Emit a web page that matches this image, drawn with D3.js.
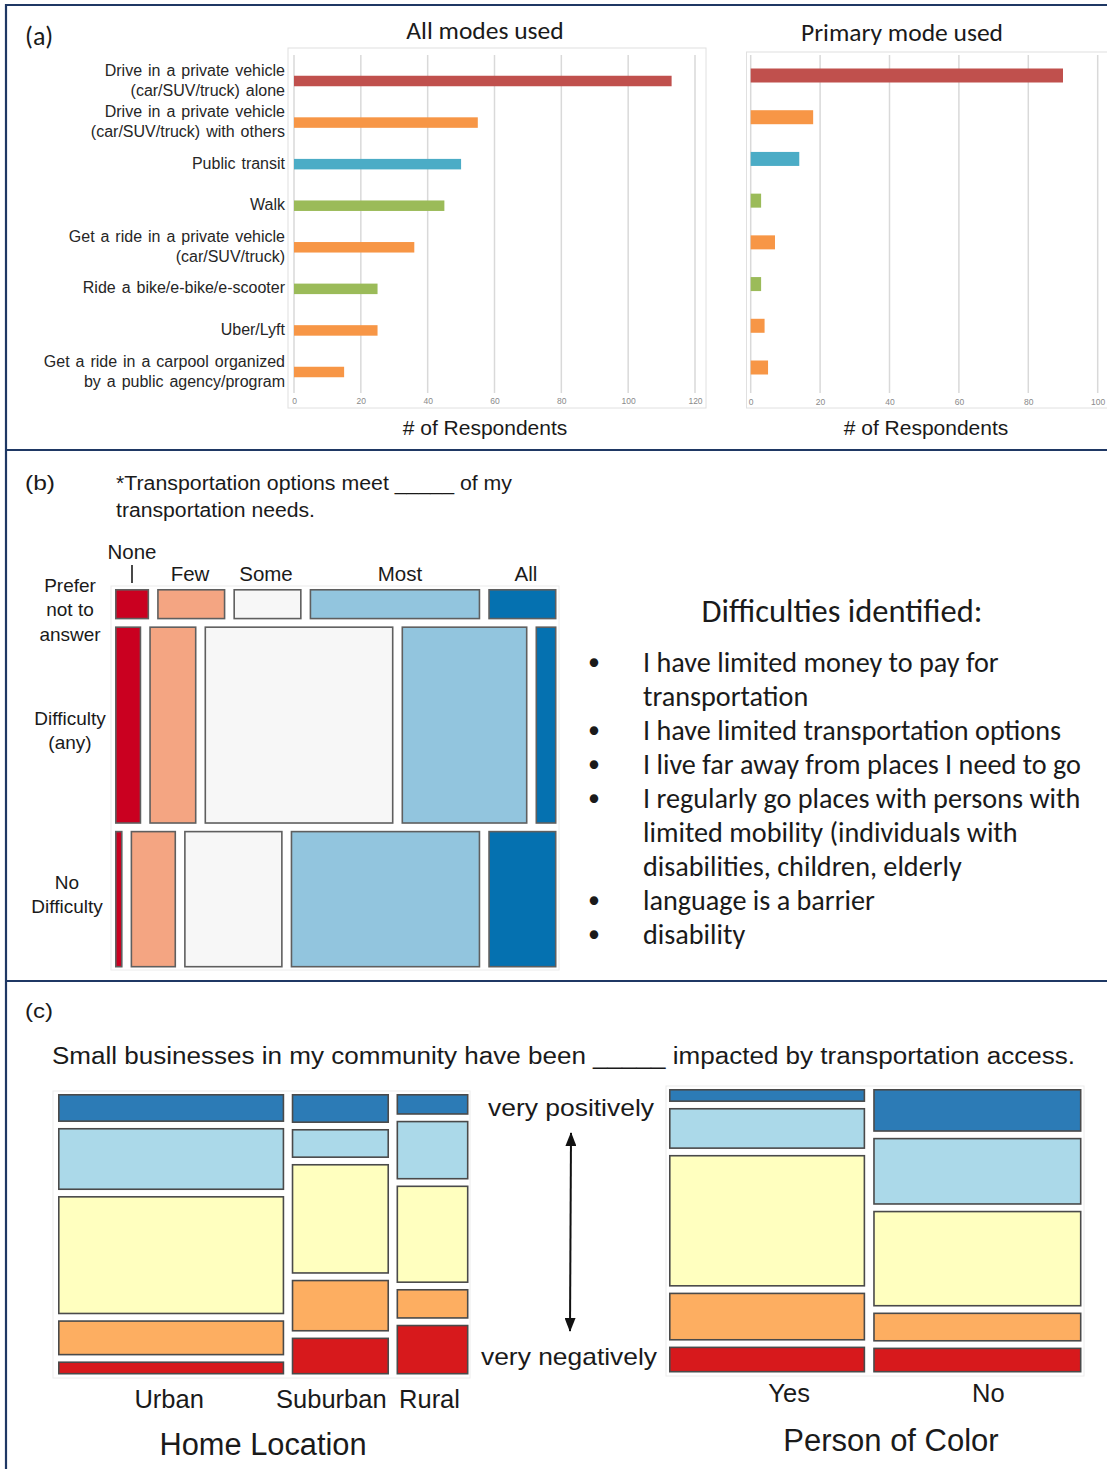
<!DOCTYPE html>
<html>
<head>
<meta charset="utf-8">
<script src="https://cdn.jsdelivr.net/npm/d3@7"></script>
<style>
  body { margin: 0; background: #fff; }
  svg { display: block; }
</style>
</head>
<body>
<svg id="fig" width="1107" height="1469"></svg>
<script>
// ---------- (a) travel modes ----------
const modeLabels = [
  ["Drive in a private vehicle", "(car/SUV/truck) alone"],
  ["Drive in a private vehicle", "(car/SUV/truck) with others"],
  ["Public transit"],
  ["Walk"],
  ["Get a ride in a private vehicle", "(car/SUV/truck)"],
  ["Ride a bike/e-bike/e-scooter"],
  ["Uber/Lyft"],
  ["Get a ride in a carpool organized", "by a public agency/program"]
];
const allModesUsed    = [113, 55, 50, 45, 36, 25, 25, 15];
const primaryModeUsed = [90, 18, 14, 3, 7, 3, 4, 5];
const modeGroup = ["alone", "shared", "transit", "active", "shared", "active", "shared", "shared"];
const allModesTicks = [0, 20, 40, 60, 80, 100, 120];
const primaryTicks  = [0, 20, 40, 60, 80, 100];

// ---------- (b) needs met vs. difficulty ----------
const needLevels = ["None", "Few", "Some", "Most", "All"];
const difficultyGroups = [["Prefer", "not to", "answer"], ["Difficulty", "(any)"], ["No", "Difficulty"]];
const needsPreferNot    = [1, 2, 2, 5, 2];
const needsDifficulty   = [5, 9, 36, 24, 4];
const needsNoDifficulty = [1, 6, 13, 25, 9];
const difficultiesList = [
  ["I have limited money to pay for", "transportation"],
  ["I have limited transportation options"],
  ["I live far away from places I need to go"],
  ["I regularly go places with persons with", "limited mobility (individuals with", "disabilities, children, elderly"],
  ["language is a barrier"],
  ["disability"]
];

// ---------- (c) small-business impact (shares, %) ----------
// impact levels ordered top to bottom: very positively ... very negatively
const homeLocations = ["Urban", "Suburban", "Rural"];
const homeShare = [57.2, 24.6, 18.2];
const impactUrban    = [10.9, 24.2, 46.1, 13.7, 5.1];
const impactSuburban = [11.3, 11.3, 42.8, 20.2, 14.4];
const impactRural    = [8.1, 22.9, 38.0, 11.6, 19.4];
const pocGroups = ["Yes", "No"];
const pocShare = [48.5, 51.5];
const impactPocYes = [5.0, 15.8, 50.8, 18.5, 10.0];
const impactPocNo  = [16.5, 25.8, 36.9, 11.2, 9.6];

// ---------- palettes ----------
const modeColor = { alone: "#c0504d", shared: "#f79646", transit: "#4bacc6", active: "#9bbb59" };
const needColors = ["#ca0020", "#f4a582", "#f7f7f7", "#92c5de", "#0571b0"];
const impactColors = ["#2c7bb6", "#abd9e9", "#ffffbf", "#fdae61", "#d7191c"];

const ARIAL = "'Liberation Sans', Arial, Helvetica, sans-serif";
const CALIBRI = "Carlito, Calibri, Lato, 'Open Sans', sans-serif";
const NAVY = "#1f3864";

const svg = d3.select("#fig");
svg.append("rect").attr("width", 1107).attr("height", 1469).attr("fill", "#fff");

// panel frame lines
const frame = svg.append("g").attr("stroke", NAVY).attr("stroke-width", 2.2);
frame.append("line").attr("x1", 6).attr("x2", 1107).attr("y1", 5).attr("y2", 5);
frame.append("line").attr("x1", 6).attr("x2", 6).attr("y1", 4).attr("y2", 1469);
frame.append("line").attr("x1", 6).attr("x2", 1107).attr("y1", 450).attr("y2", 450);
frame.append("line").attr("x1", 6).attr("x2", 1107).attr("y1", 981).attr("y2", 981);

function text(g, str, x, y, opts = {}) {
  const t = g.append("text")
    .attr("x", x).attr("y", y).attr("dy", "0.35em")
    .attr("font-family", opts.family || ARIAL)
    .attr("font-size", opts.size || 16)
    .attr("fill", opts.fill || "#1a1a1a")
    .attr("text-anchor", opts.anchor || "start")
    .text(str);
  if (opts.width) t.attr("textLength", opts.width).attr("lengthAdjust", "spacingAndGlyphs");
  if (opts.wordSpacing) t.attr("word-spacing", opts.wordSpacing);
  return t;
}

// ================= (a) =================
const gA = svg.append("g");
text(gA, "(a)", 25, 36, { family: CALIBRI, size: 26 });

function barChart(g, values, ticks, cfg) {
  const x = d3.scaleLinear().domain([0, ticks[ticks.length - 1]]).range([cfg.x0, cfg.x1]);
  const y = d3.scalePoint().domain(d3.range(values.length)).range([cfg.yFirst, cfg.yLast]);

  // plot frame
  g.append("rect")
    .attr("x", cfg.fx0).attr("y", cfg.fy0)
    .attr("width", cfg.fx1 - cfg.fx0).attr("height", cfg.fy1 - cfg.fy0)
    .attr("fill", "none").attr("stroke", "#e0e0e0").attr("stroke-width", 1);

  // vertical gridlines
  g.append("g").selectAll("line").data(ticks).join("line")
    .attr("x1", d => x(d)).attr("x2", d => x(d))
    .attr("y1", 55).attr("y2", 393)
    .attr("stroke", "#d9d9d9").attr("stroke-width", 1.5);

  // tick labels
  const ax = g.append("g").attr("transform", `translate(0,${cfg.tickY})`)
    .call(d3.axisBottom(x).tickValues(ticks).tickSize(0).tickPadding(0));
  ax.select(".domain").remove();
  ax.selectAll("text").attr("font-family", ARIAL).attr("font-size", 8.5)
    .attr("fill", "#8a8a8a").attr("dy", "0.35em");

  // bars
  g.append("g").selectAll("rect").data(values).join("rect")
    .attr("x", x(0))
    .attr("y", (d, i) => y(i) - cfg.barH / 2)
    .attr("width", d => x(d) - x(0))
    .attr("height", cfg.barH)
    .attr("fill", (d, i) => modeColor[modeGroup[i]]);

  text(g, cfg.title, cfg.titleX, cfg.titleY, { family: CALIBRI, size: 25.5, anchor: "middle" });
  text(g, "# of Respondents", cfg.axisTitleX, 428, { size: 21, anchor: "middle" });
  return y;
}

const yAll = barChart(gA, allModesUsed, allModesTicks, {
  x0: 294, x1: 695, yFirst: 81, yLast: 372, barH: 10.5,
  fx0: 288, fx1: 706, fy0: 48, fy1: 408, tickY: 401,
  title: "All modes used", titleX: 485, titleY: 30, axisTitleX: 485
});
barChart(gA, primaryModeUsed, primaryTicks, {
  x0: 750.7, x1: 1097.7, yFirst: 75.5, yLast: 367.5, barH: 14,
  fx0: 746.5, fx1: 1112, fy0: 52, fy1: 408, tickY: 402,
  title: "Primary mode used", titleX: 902, titleY: 32, axisTitleX: 926
});

// category labels
modeLabels.forEach((lines, i) => {
  const cy = yAll(i);
  const offs = lines.length === 1 ? [-1] : [-11, 9];
  lines.forEach((ln, k) => {
    text(gA, ln, 285, cy + offs[k], { size: 16, anchor: "end", fill: "#262626", wordSpacing: 1.5 });
  });
});

// ================= mosaic helper =================
// outer groups split the long axis by their weights; inner values split each group
function mosaic(g, groups, cfg) {
  const horizontalOuter = cfg.orient === "cols";
  const weights = cfg.outerWeights || groups.map(v => d3.sum(v));
  const outerSpan = horizontalOuter ? cfg.x1 - cfg.x0 : cfg.y1 - cfg.y0;
  const outerScale = d3.scaleLinear().domain([0, d3.sum(weights)])
    .range([0, outerSpan - cfg.gapOuter * (groups.length - 1)]);
  const outerStart = [0, ...d3.cumsum(weights)];
  const cells = [];
  groups.forEach((vals, gi) => {
    const o0 = (horizontalOuter ? cfg.x0 : cfg.y0) + outerScale(outerStart[gi]) + cfg.gapOuter * gi;
    const oLen = outerScale(weights[gi]);
    const innerSpan = horizontalOuter ? cfg.y1 - cfg.y0 : cfg.x1 - cfg.x0;
    const innerScale = d3.scaleLinear().domain([0, d3.sum(vals)])
      .range([0, innerSpan - cfg.gapInner * (vals.length - 1)]);
    const innerStart = [0, ...d3.cumsum(vals)];
    vals.forEach((v, vi) => {
      const i0 = (horizontalOuter ? cfg.y0 : cfg.x0) + innerScale(innerStart[vi]) + cfg.gapInner * vi;
      const iLen = innerScale(v);
      cells.push(horizontalOuter
        ? { x: o0, y: i0, w: oLen, h: iLen, k: vi, g: gi }
        : { x: i0, y: o0, w: iLen, h: oLen, k: vi, g: gi });
    });
  });
  const sw = cfg.strokeWidth;
  g.append("g").selectAll("rect").data(cells).join("rect")
    .attr("x", d => d.x + sw / 2).attr("y", d => d.y + sw / 2)
    .attr("width", d => Math.max(0, d.w - sw)).attr("height", d => Math.max(0, d.h - sw))
    .attr("fill", d => cfg.colors[d.k])
    .attr("stroke", cfg.stroke).attr("stroke-width", sw);
  return { outerScale, outerStart, weights };
}

// ================= (b) =================
const gB = svg.append("g");
text(gB, "(b)", 25, 483, { size: 21, width: 30 });
text(gB, "*Transportation options meet _____ of my", 116, 483, { size: 19.5, width: 396 });
text(gB, "transportation needs.", 116, 510, { size: 19.5, width: 199 });

gB.append("rect").attr("x", 111).attr("y", 586).attr("width", 448).attr("height", 384)
  .attr("fill", "none").attr("stroke", "#ececec").attr("stroke-width", 1);

mosaic(gB, [needsPreferNot, needsDifficulty, needsNoDifficulty], {
  orient: "rows", x0: 115, x1: 556.5, y0: 589, y1: 967.5,
  gapOuter: 7, gapInner: 8, colors: needColors, stroke: "#5f5f5f", strokeWidth: 1.6
});

// column labels (positions follow the top row of cells)
const needLabelX = [132, 190, 266, 400, 526];
needLevels.forEach((lab, i) => {
  text(gB, lab, needLabelX[i], i === 0 ? 552 : 574, { size: 20.5, anchor: "middle" });
});
gB.append("line").attr("x1", 132).attr("x2", 132).attr("y1", 565).attr("y2", 583)
  .attr("stroke", "#1a1a1a").attr("stroke-width", 1.6);

// row labels
const rowLabelPos = [{ x: 70, y: 585 }, { x: 70, y: 718 }, { x: 67, y: 882 }];
difficultyGroups.forEach((lines, i) => {
  lines.forEach((ln, k) => {
    text(gB, ln, rowLabelPos[i].x, rowLabelPos[i].y + k * 24.5, { size: 19, anchor: "middle" });
  });
});

// difficulties list
text(gB, "Difficulties identified:", 842, 611, { family: CALIBRI, size: 32.5, anchor: "middle" });
let lineIdx = 0;
difficultiesList.forEach(item => {
  item.forEach((ln, k) => {
    const yy = 662 + lineIdx * 34;
    if (k === 0) text(gB, "•", 594, yy, { family: CALIBRI, size: 24, anchor: "middle" });
    text(gB, ln, 643, yy, { family: CALIBRI, size: 28.2 });
    lineIdx++;
  });
});

// ================= (c) =================
const gC = svg.append("g");
text(gC, "(c)", 25, 1011, { size: 21, width: 28 });
text(gC, "Small businesses in my community have been _____ impacted by transportation access.",
  52, 1056, { size: 23, width: 1023 });

// home-location mosaic
gC.append("rect").attr("x", 53).attr("y", 1091).attr("width", 417).attr("height", 287)
  .attr("fill", "none").attr("stroke", "#ececec").attr("stroke-width", 1);
const home = mosaic(gC, [impactUrban, impactSuburban, impactRural], {
  orient: "cols", x0: 58, x1: 468.5, y0: 1094, y1: 1374.5, outerWeights: homeShare,
  gapOuter: 7.5, gapInner: 6, colors: impactColors, stroke: "#4a4a4a", strokeWidth: 1.6
});
const homeLabelDx = [-2, -9, -3];
homeLocations.forEach((lab, i) => {
  const cx = 58 + home.outerScale(home.outerStart[i] + home.weights[i] / 2) + 7.5 * i;
  text(gC, lab, cx + homeLabelDx[i], 1399, { size: 25.5, anchor: "middle" });
});
text(gC, "Home Location", 263, 1444, { size: 30.8, anchor: "middle" });

// person-of-color mosaic
gC.append("rect").attr("x", 666).attr("y", 1086).attr("width", 418).attr("height", 290)
  .attr("fill", "none").attr("stroke", "#ececec").attr("stroke-width", 1);
const poc = mosaic(gC, [impactPocYes, impactPocNo], {
  orient: "cols", x0: 669, x1: 1081.5, y0: 1089, y1: 1372.5, outerWeights: pocShare,
  gapOuter: 8, gapInner: 6, colors: impactColors, stroke: "#4a4a4a", strokeWidth: 1.6
});
const pocLabelDx = [22, 11];
pocGroups.forEach((lab, i) => {
  const cx = 669 + poc.outerScale(poc.outerStart[i] + poc.weights[i] / 2) + 8 * i;
  text(gC, lab, cx + pocLabelDx[i], 1393, { size: 25.5, anchor: "middle" });
});
text(gC, "Person of Color", 891, 1440, { size: 31, anchor: "middle" });

// scale direction arrow
text(gC, "very  positively", 571, 1108, { size: 24, anchor: "middle", width: 166 });
text(gC, "very  negatively", 569, 1357, { size: 24, anchor: "middle", width: 176 });
const defs = svg.append("defs");
defs.append("marker").attr("id", "head").attr("viewBox", "0 0 14 11")
  .attr("refX", 13).attr("refY", 5.5).attr("markerWidth", 7).attr("markerHeight", 5.5)
  .attr("markerUnits", "strokeWidth")
  .attr("orient", "auto-start-reverse")
  .append("path").attr("d", "M0,0 L14,5.5 L0,11 Z").attr("fill", "#111");
gC.append("line").attr("x1", 571).attr("x2", 570).attr("y1", 1133).attr("y2", 1331)
  .attr("stroke", "#111").attr("stroke-width", 2)
  .attr("marker-start", "url(#head)").attr("marker-end", "url(#head)");
</script>
</body>
</html>
